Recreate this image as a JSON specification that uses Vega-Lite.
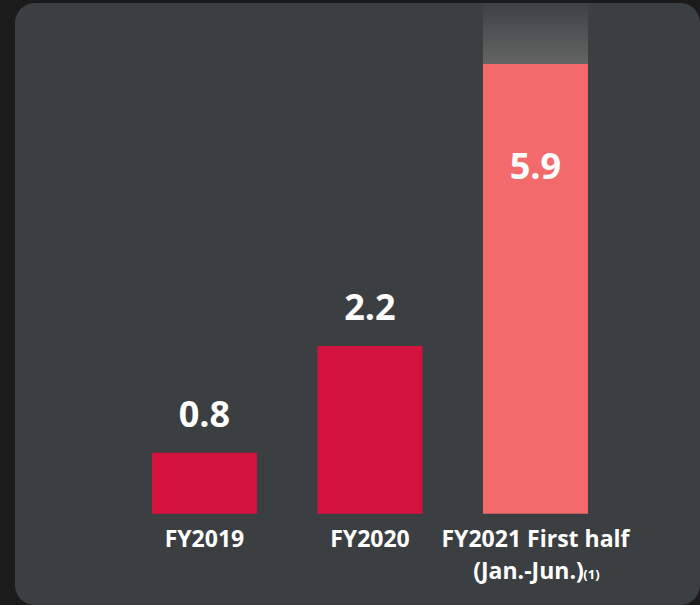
{
  "$schema": "https://vega.github.io/schema/vega-lite/v6.json",
  "width": 685,
  "height": 602,
  "padding": {"left": 15, "top": 3, "right": 0, "bottom": 0},
  "autosize": {"type": "none"},
  "background": "#1b1b1b",
  "config": {
    "view": {"fill": "#3c3f42", "stroke": null, "cornerRadius": 20},
    "text": {"font": "Open Sans", "fontWeight": "bold", "color": "#ffffff"}
  },
  "data": {
    "values": [
      {"cat": "FY2019", "value": 0.8, "valueLabel": "0.8", "kind": "annual", "line1": "FY2019", "line2": "", "note": "", "inside": false},
      {"cat": "FY2020", "value": 2.2, "valueLabel": "2.2", "kind": "annual", "line1": "FY2020", "line2": "", "note": "", "inside": false},
      {"cat": "FY2021H1", "value": 5.9, "valueLabel": "5.9", "kind": "half", "line1": "FY2021 First half", "line2": "(Jan.-Jun.)", "note": "(1)", "inside": true, "fadeTop": 6.7}
    ]
  },
  "encoding": {
    "x": {
      "field": "cat",
      "type": "nominal",
      "sort": ["FY2019", "FY2020", "FY2021H1"],
      "axis": null,
      "scale": {"domain": ["FY2019", "FY2020", "FY2021H1"], "paddingInner": 0.3656, "paddingOuter": 0.752, "align": 0.55}
    }
  },
  "layer": [
    {
      "transform": [{"filter": "datum.fadeTop != null"}],
      "mark": {
        "type": "bar",
        "color": {
          "gradient": "linear",
          "x1": 0, "y1": 0, "x2": 0, "y2": 1,
          "stops": [
            {"offset": 0, "color": "#3e4144"},
            {"offset": 1, "color": "#646564"}
          ]
        }
      },
      "encoding": {
        "y": {"field": "value", "type": "quantitative", "scale": {"domain": [-1.198, 6.702], "nice": false, "zero": false}, "axis": null},
        "y2": {"field": "fadeTop"}
      }
    },
    {
      "mark": {"type": "bar"},
      "encoding": {
        "y": {"field": "value", "type": "quantitative", "scale": {"domain": [-1.198, 6.702], "nice": false, "zero": false}, "axis": null},
        "y2": {"datum": 0},
        "color": {
          "field": "kind",
          "type": "nominal",
          "scale": {"domain": ["annual", "half"], "range": ["#d4123e", "#f26a6c"]},
          "legend": null
        }
      }
    },
    {
      "transform": [{"filter": "!datum.inside"}],
      "mark": {"type": "text", "fontSize": 36, "baseline": "alphabetic", "dy": -26},
      "encoding": {
        "y": {"field": "value", "type": "quantitative"},
        "text": {"field": "valueLabel"}
      }
    },
    {
      "transform": [{"filter": "datum.inside"}],
      "mark": {"type": "text", "fontSize": 36, "baseline": "alphabetic", "dy": 115},
      "encoding": {
        "y": {"field": "value", "type": "quantitative"},
        "text": {"field": "valueLabel"}
      }
    },
    {
      "mark": {"type": "text", "fontSize": 23, "baseline": "alphabetic", "dy": 33},
      "encoding": {
        "y": {"datum": 0, "type": "quantitative"},
        "text": {"field": "line1"}
      }
    },
    {
      "transform": [{"filter": "datum.line2 != ''"}],
      "mark": {"type": "text", "fontSize": 23, "baseline": "alphabetic", "dy": 65, "dx": -7},
      "encoding": {
        "y": {"datum": 0, "type": "quantitative"},
        "text": {"field": "line2"}
      }
    },
    {
      "transform": [{"filter": "datum.note != ''"}],
      "mark": {"type": "text", "fontSize": 13, "baseline": "alphabetic", "dy": 65, "dx": 56},
      "encoding": {
        "y": {"datum": 0, "type": "quantitative"},
        "text": {"field": "note"}
      }
    }
  ]
}
